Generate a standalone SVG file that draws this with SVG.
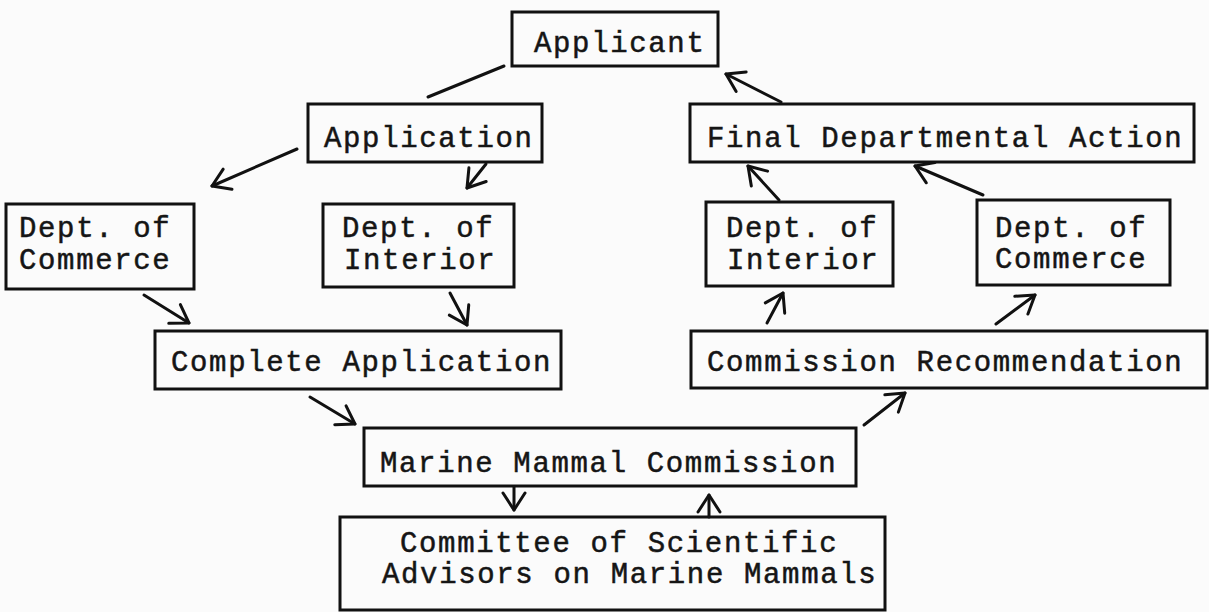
<svg xmlns="http://www.w3.org/2000/svg" width="1209" height="612" viewBox="0 0 1209 612">
<style>
.box{fill:none;stroke:#111;stroke-width:3}
.t{font-family:"Liberation Mono","Courier New",monospace;font-size:29px;letter-spacing:1.65px;fill:#151515;stroke:#151515;stroke-width:0.5}
.c{fill:none;stroke:#111;stroke-width:3;stroke-linecap:round}
</style>
<defs>
<marker id="ah" markerUnits="userSpaceOnUse" viewBox="-20 -14 23 28" markerWidth="23" markerHeight="28" refX="0" refY="0" orient="auto">
<path d="M-17,-11 L0,0 L-17,11" fill="none" stroke="#111" stroke-width="3" stroke-linecap="round" stroke-linejoin="round"/>
</marker>
</defs>
<rect width="1209" height="612" fill="#fbfbfb"/>
<g id="applicant"><rect class="box" x="512" y="12" width="206" height="54"/><text class="t" x="534" y="52">Applicant</text></g>
<g id="application"><rect class="box" x="308" y="104" width="234" height="58"/><text class="t" x="324" y="147">Application</text></g>
<g id="dept-commerce-1"><rect class="box" x="6" y="204" width="188" height="85"/><text class="t" x="19" y="237">Dept. of</text><text class="t" x="19" y="269">Commerce</text></g>
<g id="dept-interior-1"><rect class="box" x="323" y="204" width="191" height="83"/><text class="t" x="342" y="237">Dept. of</text><text class="t" x="344" y="269">Interior</text></g>
<g id="final-action"><rect class="box" x="690" y="104" width="504" height="58"/><text class="t" x="707" y="147">Final Departmental Action</text></g>
<g id="dept-interior-2"><rect class="box" x="706" y="202" width="187" height="84"/><text class="t" x="726" y="237">Dept. of</text><text class="t" x="727" y="269">Interior</text></g>
<g id="dept-commerce-2"><rect class="box" x="977" y="200" width="193" height="85"/><text class="t" x="995" y="237">Dept. of</text><text class="t" x="995" y="268">Commerce</text></g>
<g id="complete-application"><rect class="box" x="155" y="331" width="406" height="58"/><text class="t" x="171" y="371">Complete Application</text></g>
<g id="commission-recommendation"><rect class="box" x="691" y="331" width="516" height="57"/><text class="t" x="707" y="371">Commission Recommendation</text></g>
<g id="marine-mammal-commission"><rect class="box" x="364" y="428" width="492" height="58"/><text class="t" x="380" y="472">Marine Mammal Commission</text></g>
<g id="committee"><rect class="box" x="340" y="517" width="545" height="93"/><text class="t" x="400" y="552">Committee of Scientific</text><text class="t" x="382" y="583">Advisors on Marine Mammals</text></g>
<g id="connectors">
<line class="c" x1="504" y1="66" x2="428" y2="97"/>
<line class="c" x1="297" y1="149" x2="212" y2="186" marker-end="url(#ah)"/>
<line class="c" x1="486" y1="164" x2="467" y2="188" marker-end="url(#ah)"/>
<line class="c" x1="144" y1="295" x2="189" y2="323" marker-end="url(#ah)"/>
<line class="c" x1="450" y1="293" x2="467" y2="325" marker-end="url(#ah)"/>
<line class="c" x1="310" y1="397" x2="355" y2="424" marker-end="url(#ah)"/>
<line class="c" x1="514" y1="487" x2="514" y2="510" marker-end="url(#ah)"/>
<line class="c" x1="709" y1="517" x2="709" y2="495" marker-end="url(#ah)"/>
<line class="c" x1="864" y1="425" x2="905" y2="393" marker-end="url(#ah)"/>
<line class="c" x1="767" y1="323" x2="783" y2="293" marker-end="url(#ah)"/>
<line class="c" x1="996" y1="324" x2="1035" y2="295" marker-end="url(#ah)"/>
<line class="c" x1="779" y1="200" x2="748" y2="166" marker-end="url(#ah)"/>
<line class="c" x1="983" y1="195" x2="915" y2="166" marker-end="url(#ah)"/>
<line class="c" x1="781" y1="102" x2="726" y2="74" marker-end="url(#ah)"/>
</g>
</svg>
